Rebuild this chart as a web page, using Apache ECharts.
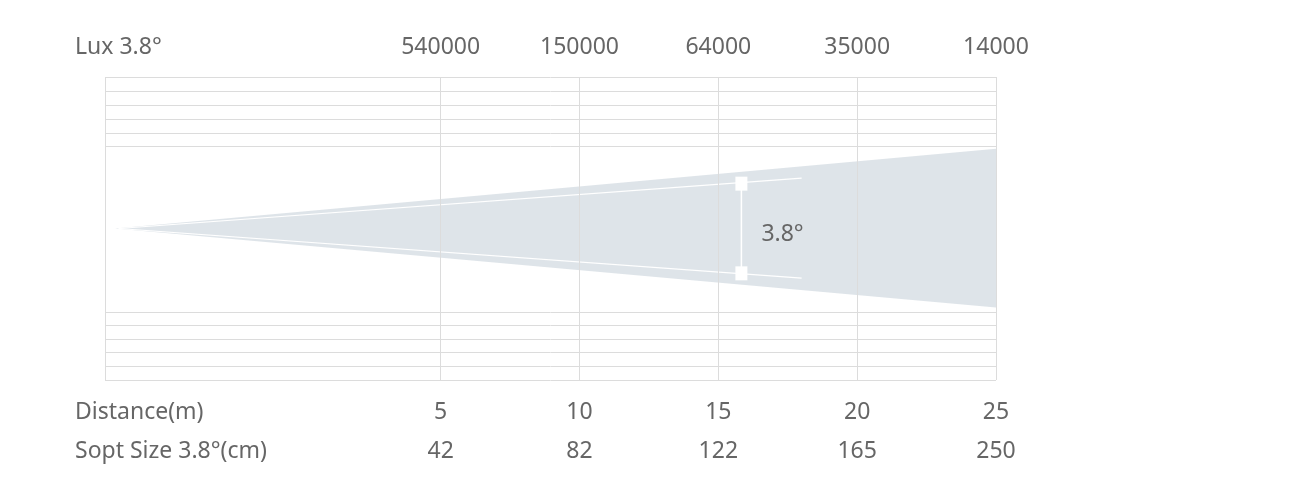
<!DOCTYPE html><html><head><meta charset="utf-8"><script src="https://cdn.jsdelivr.net/npm/echarts@6/dist/echarts.min.js"></script>
<style>html,body{margin:0;background:#fff}#c{width:1314px;height:503px}</style></head><body><div id="c"></div><script>
const distances=[5,10,15,20,25];
const luxValues=['540000','150000','64000','35000','14000'];
const spotSizes=['42','82','122','165','250'];
const beamAngle='3.8°';
const hLines=[50,45.4,40.8,36.1,31.5,27.2,-27.5,-32,-36.5,-41,-45.5,-50];
const beam=[[-6.73,0],[25,26.3],[25,-26.1]];
const innerTop=[[-6.6,0],[18,16.6]], innerBot=[[-6.6,0],[18,-16.4]];
const arrowX=15.83, arrowY=[14.8,-14.8];
const XMIN=-7.09,XMAX=25;
const ch=echarts.init(document.getElementById('c'));
const gl={color:'#dcdcdc',width:1};
const mk=[...hLines.map(v=>({yAxis:v})),...distances.map(v=>({xAxis:v})),{xAxis:XMIN}];
ch.setOption({animation:false,
grid:{left:105,right:318,top:77,bottom:123},
xAxis:{type:'value',min:XMIN,max:XMAX,show:false},
yAxis:{type:'value',min:-50,max:50,show:false},
series:[
{type:'line',data:[],markLine:{silent:true,symbol:'none',label:{show:false},lineStyle:{color:'#dcdcdc',type:'solid',width:1},data:mk},z:1},
{type:'custom',z:3,data:[0],renderItem:(p,api)=>({type:'polygon',shape:{points:beam.map(d=>api.coord(d))},style:{fill:'#dbe2e7',opacity:0.93}})},
{type:'line',z:4,data:innerTop,symbol:'none',lineStyle:{color:'#fff',width:1.2}},
{type:'line',z:4,data:innerBot,symbol:'none',lineStyle:{color:'#fff',width:1.2}},
{type:'line',z:4,data:[[arrowX,arrowY[0]],[arrowX,arrowY[1]]],symbol:['arrow','arrow'],symbolSize:[12,14],itemStyle:{color:'#fff'},lineStyle:{color:'#fff',width:1.5}}
]});
const tf="'Noto Sans', sans-serif", col='#666';
const g=[];
const T=(x,y,t,al)=>g.push({type:'text',x,y,style:{text:t,font:'23px '+tf,fill:col,align:al||'center',verticalAlign:'middle'},z:10});
T(75,47,'Lux 3.8°','left');T(75,412,'Distance(m)','left');T(75,451,'Sopt Size 3.8°(cm)','left');
distances.forEach((d,i)=>{const x=ch.convertToPixel({gridIndex:0},[d,0])[0];T(x,47,luxValues[i]);T(x,412,String(d));T(x,451,spotSizes[i]);});
const ap=ch.convertToPixel({gridIndex:0},[arrowX,0]);
T(ap[0]+20,234,beamAngle,'left');
ch.setOption({graphic:g});
</script></body></html>
